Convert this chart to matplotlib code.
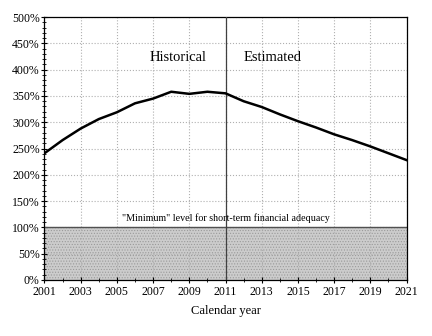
import numpy as np
import matplotlib.pyplot as plt
from matplotlib.ticker import FixedLocator, MultipleLocator, PercentFormatter

plt.rcParams['font.family'] = ['Liberation Serif', 'DejaVu Serif']
plt.rcParams['hatch.color'] = '#9a9a9a'
plt.rcParams['hatch.linewidth'] = 0.5

years = np.arange(2001, 2022)
ratio = np.array([241, 266, 288, 306, 319, 336, 345, 358, 354, 358, 355,
                  340, 329, 315, 302, 290, 277, 266, 254, 241, 228])
year_ticks = np.arange(2001, 2022, 2)
minimum_level = 100
split_year = 2011

fig = plt.figure(figsize=(4.32, 3.36), dpi=100)
ax = fig.add_axes([0.103, 0.167, 0.838, 0.782])

# minimum level band
ax.fill_between([2001, 2021], 0, minimum_level, facecolor='#cccccc',
                edgecolor='#9a9a9a', hatch='......', linewidth=0, zorder=1)
ax.axhline(minimum_level, color='#505050', lw=1.0, zorder=2)

ax.plot(years, ratio, color='black', lw=1.8, zorder=4)
ax.axvline(split_year, color='#404040', lw=0.9, zorder=3)

ax.set_xlim(2001, 2021)
ax.set_ylim(0, 500)
ax.xaxis.set_major_locator(FixedLocator(year_ticks))
ax.xaxis.set_minor_locator(FixedLocator(years))
ax.yaxis.set_major_locator(MultipleLocator(50))
ax.yaxis.set_minor_locator(MultipleLocator(10))
ax.yaxis.set_major_formatter(PercentFormatter(decimals=0))

ax.grid(which='major', color='#b0b0b0', linestyle=':', lw=0.8, zorder=0)
ax.tick_params(which='major', direction='inout', length=5, width=0.8, labelsize=8.5)
ax.tick_params(which='minor', direction='inout', length=3, width=0.6)
ax.tick_params(axis='x', pad=2)
ax.tick_params(axis='y', pad=1)
for s in ax.spines.values():
    s.set_linewidth(0.9)

ax.text(2008.4, 424, 'Historical', ha='center', va='center', fontsize=10.5)
ax.text(2013.6, 424, 'Estimated', ha='center', va='center', fontsize=10.5)
ax.text(2011, 118, '"Minimum" level for short-term financial adequacy',
        ha='center', va='center', fontsize=7.2)

ax.set_xlabel('Calendar year', fontsize=9, labelpad=5)

plt.savefig('out.png', dpi=100)
